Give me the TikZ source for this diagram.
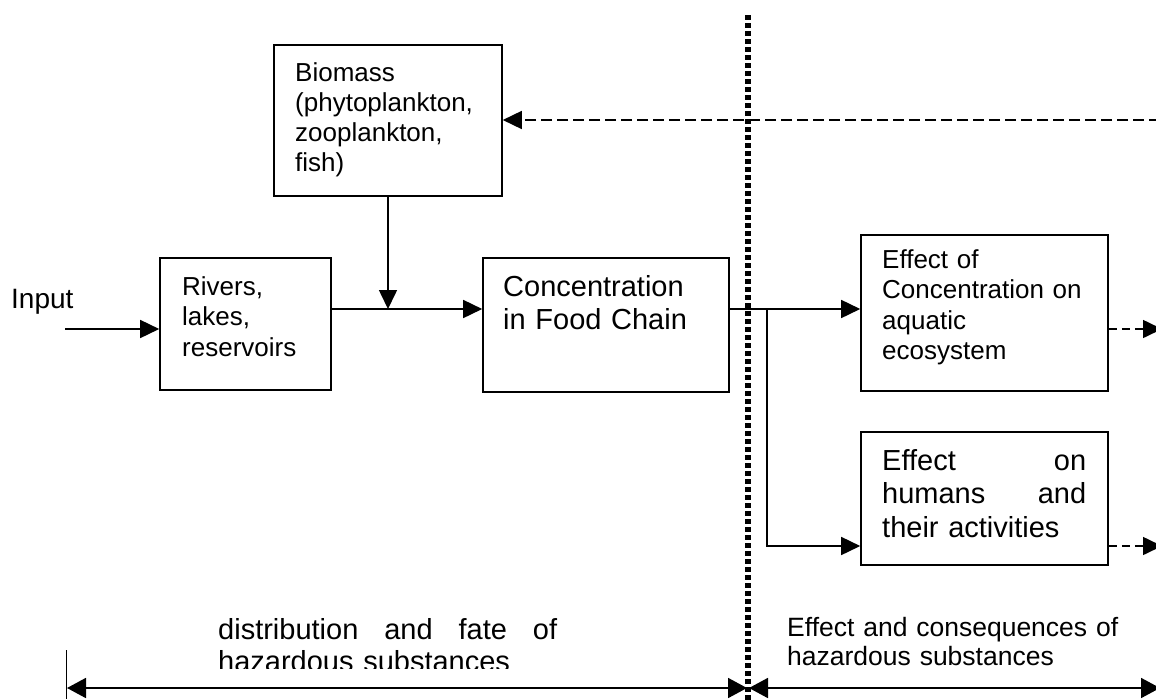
\documentclass[tikz,border=0pt]{standalone}
\usepackage{fontspec}
\setmainfont{Liberation Sans}
\usetikzlibrary{arrows.meta}
\newcommand\setfs[2]{\fontsize{#1}{#2}\selectfont}
\tikzset{
  box/.style={draw, line width=1.6pt, inner sep=0pt},
  txt/.style={anchor=base west, inner sep=0pt, align=left},
  link/.style={line width=1.6pt, -{Triangle[length=19pt,width=18pt]}},
  fback/.style={line width=1.6pt, dash pattern=on 11pt off 5pt, -{Triangle[length=19pt,width=18pt]}},
  fout/.style={line width=1.6pt, dash pattern=on 8pt off 5pt, -{Triangle[length=19pt,width=18pt]}},
  divider/.style={line width=5.5pt, dash pattern=on 4.5pt off 3.5pt},
  span/.style={line width=1.8pt, {Triangle[length=19pt,width=20pt]}-{Triangle[length=19pt,width=20pt]}},
}
\begin{document}
\begin{tikzpicture}[x=1pt,y=-1pt]
\clip (0,0) rectangle (1156,699);
\fill[white] (0,0) rectangle (1156,699);

% boxes
\node[box, minimum width=228pt, minimum height=151pt] (bio)  at (388,120.5) {};
\node[box, minimum width=171pt, minimum height=132pt] (riv)  at (245.5,324) {};
\node[box, minimum width=246pt, minimum height=134pt] (conc) at (606,325) {};
\node[box, minimum width=247pt, minimum height=156pt] (eff1) at (984.5,313) {};
\node[box, minimum width=247pt, minimum height=133pt] (eff2) at (984.5,498.5) {};

% box texts
\node[txt, text width=200pt, font=\setfs{26}{30}] (bioT) at (295,81)
  {Biomass\\(phytoplankton,\\zooplankton,\\fish)};
\node[txt, text width=145pt, font=\setfs{26}{30.5}] (rivT) at (182,295)
  {Rivers,\\lakes,\\reservoirs};
\node[txt, text width=215pt, font=\setfs{29}{33}] (concT) at (503,296)
  {Concentration\\in Food Chain};
\node[txt, text width=215pt, font=\setfs{26}{30.5}] (eff1T) at (882,268)
  {Effect of\\Concentration on\\aquatic\\ecosystem};
\node[txt, text width=204pt, font=\setfs{29}{33.5}] (eff2T) at (882,470)
  {Effect\hfill on\\humans\hfill and\\their activities};
\node[txt, text width=80pt, font=\setfs{28}{32}] (inT) at (11,308) {Input};

% flow connectors
\coordinate (inS) at (65,329);
\draw[link] (inS) -- (inS -| riv.west);
\coordinate (mid) at (388,309);
\draw[link] (riv.east |- mid) -- (conc.west |- mid);
\draw[link] (bio.south) -- (mid);
\coordinate (brA) at (767,309);
\coordinate (brB) at (767,546);
\draw[link] (conc.east |- brA) -- (eff1.west |- brA);
\draw[link] (brA) -- (brB) -- (eff2.west |- brB);

% dashed feedback and outgoing arrows
\coordinate (fbR) at (1160,120);
\draw[fback] (fbR) -- (bio.east |- fbR);
\coordinate (o1) at (1162,329);
\coordinate (o2) at (1162,546);
\draw[fout] (eff1.east |- o1) -- (o1);
\draw[fout] (eff2.east |- o2) -- (o2);

% dotted divider
\coordinate (dvT) at (748,15);
\coordinate (dvB) at (748,702);
\draw[divider] (dvT) -- (dvB);

% bottom span arrows and labels
\coordinate (sL) at (67,688);
\coordinate (sM) at (748,688);
\coordinate (sR) at (1160,688);
\draw[span] (sL) -- ([xshift=-1pt]sM);
\draw[span] ([xshift=1pt]sM) -- (sR);
\coordinate (tkT) at (66,650);
\coordinate (tkB) at (66,699);
\draw[line width=1pt] (tkT) -- (tkB);

\begin{scope}
  \clip (150,590) rectangle (620,668);
  \node[txt, text width=339pt, font=\setfs{29}{32}] (leftT) at (218,639)
    {distribution\hfill and\hfill fate\hfill of\\hazardous substances};
\end{scope}
\node[txt, text width=360pt, font=\setfs{26.5}{29}] (rightT) at (787,636)
  {Effect and consequences of\\hazardous substances};
\end{tikzpicture}
\end{document}
